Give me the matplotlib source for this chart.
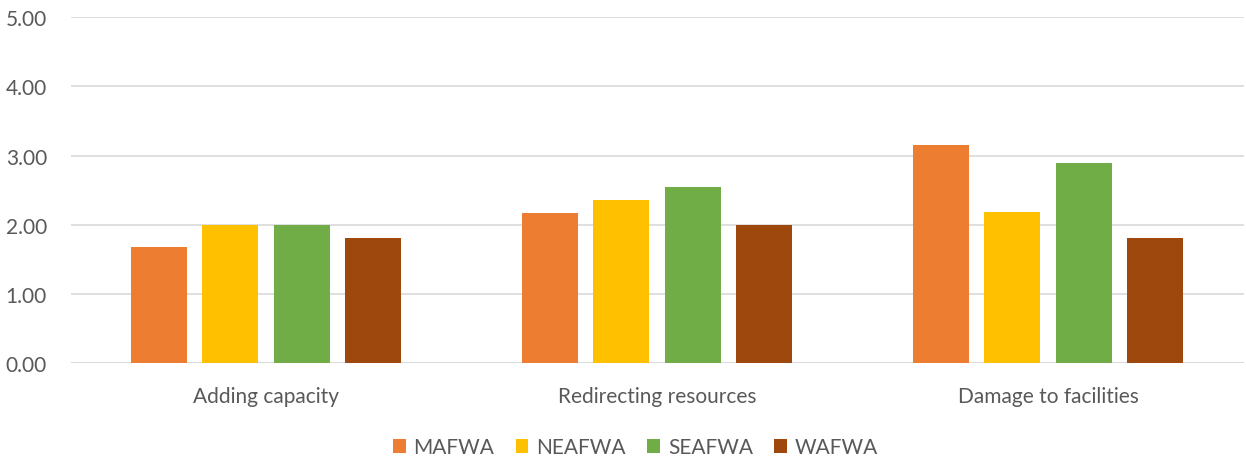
import numpy as np
import matplotlib.pyplot as plt

plt.rcParams['font.family'] = ['Lato', 'DejaVu Sans']

categories = ['Adding capacity', 'Redirecting resources', 'Damage to facilities']
series = ['MAFWA', 'NEAFWA', 'SEAFWA', 'WAFWA']
mafwa = [1.67, 2.17, 3.16]
neafwa = [2.00, 2.36, 2.18]
seafwa = [2.00, 2.55, 2.89]
wafwa = [1.81, 2.00, 1.81]
colors = ['#ED7D31', '#FFC000', '#70AD47', '#9E480E']

values = [mafwa, neafwa, seafwa, wafwa]
text_col = '#595959'

fig = plt.figure(figsize=(12.46, 4.6), dpi=100)
ax = fig.add_axes([0.0566, 0.209, 0.9414, 0.751])

x = np.arange(len(categories))
width = 0.143
step = 0.182
for i, (name, vals, c) in enumerate(zip(series, values, colors)):
    ax.bar(x + (i - 1.5) * step, vals, width, color=c, label=name, zorder=3)

ax.set_xlim(-0.5, 2.5)
ax.set_ylim(0, 5)
ax.set_yticks(np.arange(0, 5.01, 1))
ax.set_yticklabels([f'{v:.2f}' for v in np.arange(0, 5.01, 1)])
ax.set_xticks(x)
ax.set_xticklabels(categories)
ax.tick_params(axis='both', length=0, colors=text_col, labelsize=15)
ax.tick_params(axis='x', pad=17)
ax.tick_params(axis='y', pad=17)
ax.grid(axis='y', color='#D9D9D9', linewidth=1.2, zorder=0)
for s in ax.spines.values():
    s.set_visible(False)
ax.axhline(0, color='#D9D9D9', linewidth=1.2, zorder=2)

leg = fig.legend(loc='center', bbox_to_anchor=(0.51, 0.025), ncol=4, frameon=False,
                 fontsize=15, handlelength=0.62, handleheight=0.62,
                 handletextpad=0.38, columnspacing=1.02)
for t in leg.get_texts():
    t.set_color(text_col)

fig.savefig('out.png', dpi=100)
